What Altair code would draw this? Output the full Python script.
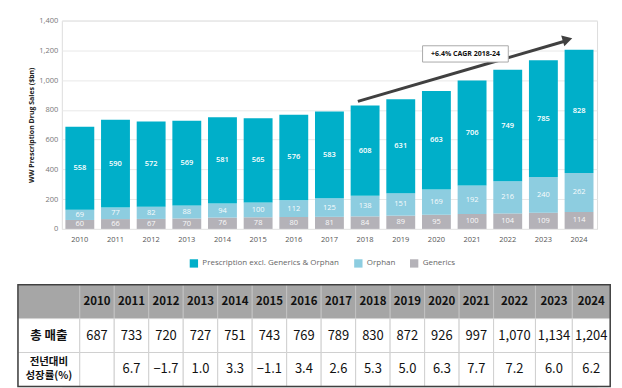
import altair as alt
import pandas as pd

# ---------------- data ----------------
years = [str(y) for y in range(2010, 2025)]
generics = [60, 66, 67, 70, 76, 78, 80, 81, 84, 89, 95, 100, 104, 109, 114]
orphan = [69, 77, 82, 88, 94, 100, 112, 125, 138, 151, 169, 192, 216, 240, 262]
prescription = [558, 590, 572, 569, 581, 565, 576, 583, 608, 631, 663, 706, 749, 785, 828]
series = ["Prescription excl. Generics & Orphan", "Orphan", "Generics"]
colors = ["#00AFC9", "#8DCDE0", "#B4B2B8"]

total_sales = [687, 733, 720, 727, 751, 743, 769, 789, 830, 872, 926, 997, 1070, 1134, 1204]
growth = [None, 6.7, -1.7, 1.0, 3.3, -1.1, 3.4, 2.6, 5.3, 5.0, 6.3, 7.7, 7.2, 6.0, 6.2]
row_titles = ["", "총 매출", "전년대비\n성장률(%)"]

cagr_label = "+6.4% CAGR 2018-24"
arrow_years = ["2018", "2024"]
arrow_values = [857, 1261]
arrow_head_value = 1273
cagr_label_year = "2021"
cagr_label_value = 1176

# ---------------- bar chart ----------------
rows = []
for i, yr in enumerate(years):
    for s, vals, o in [(series[2], generics, 0), (series[1], orphan, 1), (series[0], prescription, 2)]:
        rows.append({"year": yr, "series": s, "value": vals[i], "order": o})
df = pd.DataFrame(rows)

FONT = "Open Sans"
YTITLE = "WW Prescription Drug Sales ($bn)"

xscale = alt.Scale(paddingInner=0.19, paddingOuter=0.1)
xaxis = alt.Axis(labelAngle=0, labelColor="#555", labelFontSize=7.5, labelPadding=7,
                 ticks=False, domain=False, labelFont=FONT, title=None)
yscale = alt.Scale(domain=[0, 1400])
yaxis = alt.Axis(values=list(range(0, 1401, 200)), format=",.0f", title=YTITLE,
                 titleFontSize=7, titleFontWeight="bold", titleColor="#222", titleFont=FONT,
                 titlePadding=4, labelColor="#777", labelFontSize=7.5, labelFont=FONT,
                 labelPadding=4, ticks=False, domain=False, gridColor="#e8e8e8")


def X(field, **kw):
    return alt.X(field, scale=xscale, axis=xaxis, **kw)


def Y(field, **kw):
    return alt.Y(field, scale=yscale, axis=yaxis, **kw)


bars = alt.Chart(df).mark_bar().encode(
    x=X("year:O"),
    y=Y("value:Q", stack="zero"),
    color=alt.Color("series:N", scale=alt.Scale(domain=series, range=colors),
                    legend=alt.Legend(orient="none", legendX=128, legendY=239,
                                      direction="horizontal", title=None,
                                      symbolType="square", symbolSize=70, symbolStrokeWidth=0,
                                      labelFontSize=8, labelColor="#666", labelFont=FONT,
                                      columnPadding=14)),
    order=alt.Order("order:Q", sort="ascending"),
)

stacked = alt.Chart(df).transform_stack(
    stack="value", groupby=["year"], sort=[alt.SortField("order", order="ascending")], as_=["v0", "v1"]
).transform_calculate(mid="(datum.v0 + datum.v1) / 2")

lab_main = stacked.transform_filter("datum.order == 2").mark_text(
    color="white", fontSize=7.5, fontWeight=600, font=FONT
).encode(x=X("year:O"), y=Y("mid:Q"), text="value:Q")

lab_small = stacked.transform_filter("datum.order < 2").mark_text(
    color="white", fontSize=7.5, font=FONT, opacity=0.95
).encode(x=X("year:O"), y=Y("mid:Q"), text="value:Q")

arrow_df = pd.DataFrame({"xa": [arrow_years[0]], "xb": [arrow_years[1]],
                         "ya": [arrow_values[0]], "yb": [arrow_values[1]]})
arrow = alt.Chart(arrow_df).mark_rule(color="#404040", strokeWidth=3).encode(
    x=X("xa:O", bandPosition=0.25),
    x2=alt.X2("xb:O", bandPosition=0.0),
    y=Y("ya:Q"),
    y2="yb:Q",
)

head_df = pd.DataFrame({"x": [arrow_years[1]], "y": [arrow_head_value]})
head = alt.Chart(head_df).mark_point(
    shape="triangle-up", filled=True, size=130, angle=74, color="#404040", opacity=1
).encode(x=X("x:O", bandPosition=0.1), y=Y("y:Q"))

box_df = pd.DataFrame({"x": [cagr_label_year], "y": [cagr_label_value], "t": [cagr_label]})
box = alt.Chart(box_df).mark_point(
    shape="M-1,-0.19L1,-0.19L1,0.19L-1,0.19Z", size=86 * 86, filled=True,
    fill="white", stroke="#aaaaaa", strokeWidth=1, opacity=1
).encode(x=X("x:O", bandPosition=0.27), y=Y("y:Q"))
box_text = alt.Chart(box_df).mark_text(
    fontSize=7, fontWeight="bold", color="#111", font=FONT
).encode(x=X("x:O", bandPosition=0.27), y=Y("y:Q"), text="t:N")

top = alt.layer(bars, lab_small, lab_main, arrow, head, box, box_text).properties(width=537, height=209)

# ---------------- table ----------------
col_widths = [62] + [34.6] * 12 + [42, 37, 38]
edges = [0.0]
for w in col_widths:
    edges.append(edges[-1] + w)
table_total = edges[-1]

trows = []
row_values = [
    [row_titles[0]] + years,
    [row_titles[1]] + [f"{v:,}" for v in total_sales],
    [row_titles[2]] + ["" if g is None else f"{g:.1f}".replace("-", "−") for g in growth],
]
for r, vals in enumerate(row_values):
    for c, t in enumerate(vals):
        lines = t.split("\n")
        trows.append({"r": r, "c": c, "r0": r, "r1": r + 1, "rm": r + 0.5,
                      "x0": edges[c], "x1": edges[c + 1], "xm": (edges[c] + edges[c + 1]) / 2,
                      "t": t, "l1": lines[0], "l2": lines[1] if len(lines) > 1 else ""})
tdf = pd.DataFrame(trows)

tx = alt.Scale(domain=[0, table_total], range=[-44, table_total - 44])
ty = alt.Scale(domain=[0, 3], reverse=True)
TX = alt.X("xm:Q", scale=tx, axis=None)
TY = alt.Y("rm:Q", scale=ty, axis=None)
KFONT = "Noto Sans CJK KR"

tbase = alt.Chart(tdf)
cells = tbase.mark_rect(strokeWidth=1).encode(
    x=alt.X("x0:Q", scale=tx, axis=None), x2="x1:Q",
    y=alt.Y("r0:Q", scale=ty, axis=None), y2="r1:Q",
    fill=alt.condition("datum.r == 0", alt.value("#A6A6A6"), alt.value("white")),
    stroke=alt.condition("datum.r == 0", alt.value("#C2C2C2"), alt.value("#D0D0D0")),
)
txt_head = tbase.transform_filter("datum.r == 0").mark_text(
    fontSize=11.5, fontWeight="bold", color="#111", font=KFONT
).encode(x=TX, y=TY, text="t:N")
txt_body = tbase.transform_filter("datum.r > 0 && datum.c > 0").mark_text(
    fontSize=13, color="#111", font=KFONT
).encode(x=TX, y=TY, text="t:N")
txt_title1 = tbase.transform_filter("datum.r == 1 && datum.c == 0").mark_text(
    fontSize=12.5, fontWeight="bold", color="#111", font=KFONT
).encode(x=TX, y=TY, text="t:N")
txt_title2a = tbase.transform_filter("datum.r == 2 && datum.c == 0").mark_text(
    fontSize=10.5, fontWeight="bold", color="#111", font=KFONT, dy=-7
).encode(x=TX, y=TY, text="l1:N")
txt_title2b = tbase.transform_filter("datum.r == 2 && datum.c == 0").mark_text(
    fontSize=10.5, fontWeight="bold", color="#111", font=KFONT, dy=7
).encode(x=TX, y=TY, text="l2:N")

border_df = pd.DataFrame({"x0": [edges[0]], "x1": [edges[-1]], "r0": [0], "r1": [3]})
border = alt.Chart(border_df).mark_rect(fill=None, stroke="#404040", strokeWidth=1.5, fillOpacity=0).encode(
    x=alt.X("x0:Q", scale=tx, axis=None), x2="x1:Q",
    y=alt.Y("r0:Q", scale=ty, axis=None), y2="r1:Q",
)

table = alt.layer(cells, txt_head, txt_body, txt_title1, txt_title2a, txt_title2b, border).properties(
    width=537, height=102)

chart = alt.vconcat(top, table, spacing=14).resolve_scale(
    color="independent"
).resolve_legend(color="independent").properties(
    padding={"left": 8, "top": 7, "right": 2, "bottom": 0}
).configure_view(stroke=None).configure(background="white")

chart.save("out.html", embed_options={"renderer": "svg", "actions": False})
